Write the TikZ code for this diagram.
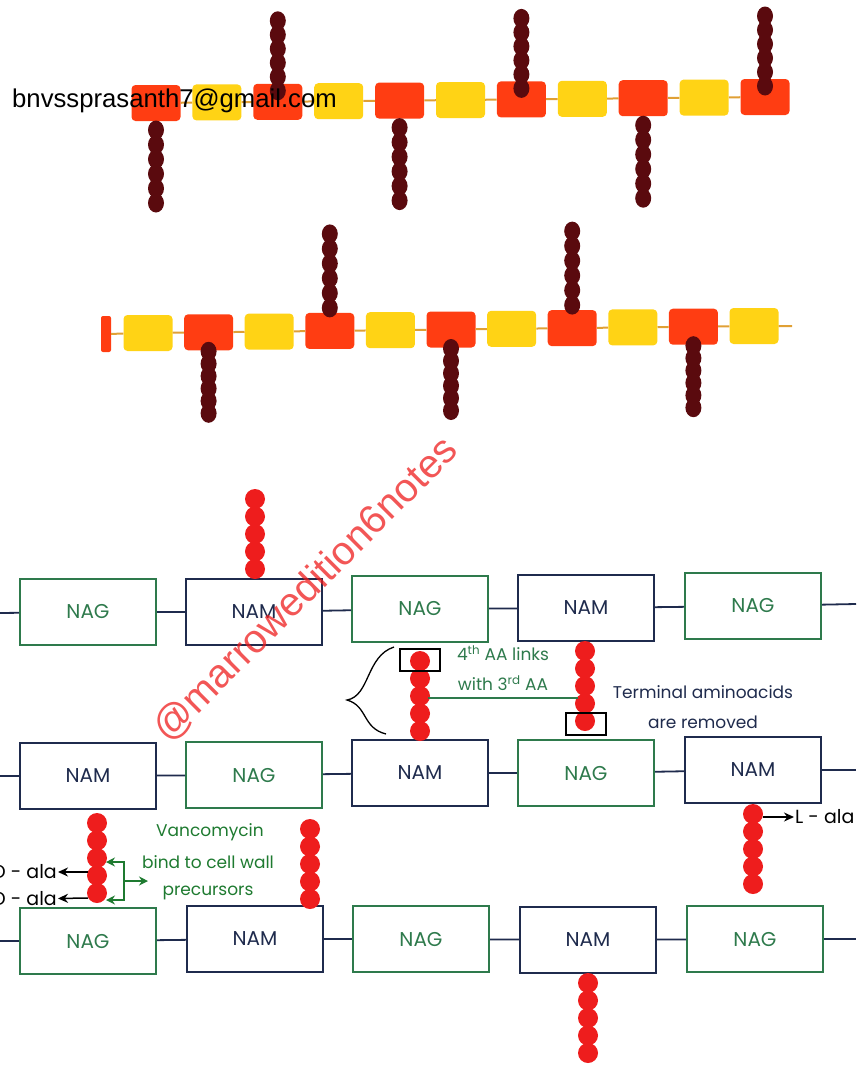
\documentclass[tikz,border=0pt]{standalone}
\usepackage{fontspec}
\usetikzlibrary{arrows.meta}

\newfontfamily\handfont{Poppins}
\newfontfamily\arialfont{Liberation Sans}

\definecolor{nagcol}{HTML}{2E7A4C}
\definecolor{namcol}{HTML}{1F2B4D}
\definecolor{beadred}{HTML}{EE1D1D}
\definecolor{beaddark}{HTML}{5A0A0E}
\definecolor{blockred}{HTML}{FF3D12}
\definecolor{blockyel}{HTML}{FFD315}
\definecolor{linkcol}{HTML}{E0A035}
\definecolor{vancocol}{HTML}{1E7A30}

% peptide side chain: style, x, y of first bead, y of last bead, number of beads
\newcommand{\sidechain}[5]{%
  \foreach \k in {1,...,#5}
    \fill[#1] ({#2},{(#3)+((#4)-(#3))*(\k-1)/(#5-1)}) circle[];
}

\begin{document}
\begin{tikzpicture}[x=1pt, y=-1pt, >=Stealth,
  block/.style={rectangle, rounded corners=4pt, minimum width=49pt, minimum height=36pt, inner sep=0pt},
  link/.style={draw=linkcol, line width=2pt},
  darkbead/.style={fill=beaddark, x radius=8pt, y radius=9.5pt},
  redbead/.style={fill=beadred, radius=10pt},
  sugar/.style={rectangle, minimum width=136pt, minimum height=66pt, line width=2pt,
    font=\handfont\fontsize{20}{24}\selectfont},
  NAG/.style={sugar, draw=nagcol, text=nagcol},
  NAM/.style={sugar, draw=namcol, text=namcol},
  glyco/.style={draw=namcol, line width=1.8pt},
  note/.style={font=\handfont\fontsize{17}{20}\selectfont, inner sep=1pt},
  ala/.style={font=\handfont\fontsize{19}{22}\selectfont, inner sep=1pt, text=black},
  tag/.style={draw, line width=1.3pt, minimum width=40pt, minimum height=22pt, inner sep=0pt},
  blackarrow/.style={-{Stealth[length=10pt,width=9pt]}, line width=1.5pt},
  vanco/.style={draw=vancocol, line width=1.5pt, arrows={Stealth[length=9pt,width=9pt]-Stealth[length=9pt,width=9pt]}},
]
\useasboundingbox (0,0) rectangle (859,1068);

% upper glycan strand
\foreach \i in {0,...,10} {
  \ifodd\i \def\bc{blockyel}\else\def\bc{blockred}\fi
  \node[block, fill=\bc] (u\i) at ({156+60.9*\i},{103-0.6*\i}) {};
}
\foreach \i [count=\j] in {0,...,9} \draw[link] (u\i) -- (u\j);
\foreach \i in {2,6,10} {\sidechain{darkbead}{156+60.9*\i}{92-0.6*\i}{22-0.6*\i}{6}}
\foreach \i in {0,4,8} {\sidechain{darkbead}{156+60.9*\i}{130-0.6*\i}{203-0.6*\i}{6}}

\node[anchor=west, inner sep=0pt, font=\arialfont\fontsize{25.7}{30}\selectfont] (mail) at (12,101) {bnvssprasanth7@gmail.com};

% lower glycan strand
\node[block, fill=blockred, minimum width=10pt, rounded corners=2pt] (v00) at (106,334) {};
\foreach \i in {0,...,10} {
  \ifodd\i \def\bc{blockred}\else\def\bc{blockyel}\fi
  \node[block, fill=\bc] (v\i) at ({148+60.6*\i},{333-0.7*\i}) {};
}
\coordinate (vend) at (792,326);
\draw[link] (v00) -- (v0);
\foreach \i [count=\j] in {0,...,9} \draw[link] (v\i) -- (v\j);
\draw[link] (v10) -- (vend);
\foreach \i in {3,7} {\sidechain{darkbead}{148+60.6*\i}{310-0.7*\i}{236-0.7*\i}{6}}
\foreach \i in {1,5,9} {\sidechain{darkbead}{148+60.6*\i}{352-0.7*\i}{414-0.7*\i}{6}}

% NAG / NAM rows
\foreach \n/\x/\y/\t in {a1/88/612/NAG, a2/254/612/NAM, a3/420/609/NAG, a4/586/608/NAM, a5/753/606/NAG,
                         b1/88/776/NAM, b2/254/775/NAG, b3/420/773/NAM, b4/586/773/NAG, b5/753/770/NAM,
                         c1/88/941/NAG, c2/255/939/NAM, c3/421/939/NAG, c4/588/940/NAM, c5/755/939/NAG}
  \node[\t] (\n) at (\x,\y) {\t};

\coordinate (aL) at (0,613); \coordinate (aR) at (856,604);
\coordinate (bL) at (0,776); \coordinate (bR) at (856,770);
\coordinate (cL) at (0,941); \coordinate (cR) at (856,939);
\foreach \r in {a,b,c} {
  \draw[glyco] (\r L) -- (\r1);
  \foreach \i [count=\j from 2] in {1,...,4} \draw[glyco] (\r\i) -- (\r\j);
  \draw[glyco] (\r5) -- (\r R);
}

% peptide chains
\sidechain{redbead}{255}{569}{499}{5}
\sidechain{redbead}{420}{661}{731}{5}
\sidechain{redbead}{585}{651}{721}{5}
\sidechain{redbead}{97}{823}{893}{5}
\sidechain{redbead}{310}{829}{899}{5}
\sidechain{redbead}{753}{814}{884}{5}
\sidechain{redbead}{588}{983}{1053}{5}

% cross-link between the strands
\node[tag] (aa4) at (420,660) {};
\node[tag] (aaend) at (586,724) {};
\coordinate (x3) at (428,698);
\coordinate (x4) at (578,698);
\draw[draw=nagcol, line width=1.5pt] (x3) -- (x4);
\draw[line width=1.3pt] (394,647) .. controls (366,656) and (370,696) .. (347,700)
  .. controls (368,706) and (362,728) .. (386,734);
\node[note, text=nagcol] (link1) at (503,653) {4\textsuperscript{th} AA links};
\node[note, text=nagcol] (link2) at (503,683) {with 3\textsuperscript{rd} AA};
\node[note, text=namcol] (term1) at (703,692) {Terminal aminoacids};
\node[note, text=namcol] (term2) at (703,722) {are removed};

% vancomycin
\node[note, text=vancocol] (vc1) at (210,832) {Vancomycin};
\node[note, text=vancocol] (vc2) at (208,862) {bind to cell wall};
\node[note, text=vancocol] (vc3) at (208,893) {precursors};
\coordinate (vs1) at (106,862); \coordinate (vk1) at (124,862);
\coordinate (vs2) at (106,900); \coordinate (vk2) at (124,900);
\coordinate (vk3) at (124,881); \coordinate (vt) at (148,881);
\draw[vanco] (vs1) -- (vk1) -- (vk2) -- (vs2);
\draw[draw=vancocol, line width=1.5pt, -{Stealth[length=9pt,width=9pt]}] (vk3) -- (vt);

% released alanines
\node[ala, anchor=east] (dala1) at (58,872) {D - ala};
\node[ala, anchor=east] (dala2) at (58,899) {D - ala};
\coordinate (d1) at (88,872); \coordinate (d2) at (88,898);
\draw[blackarrow] (d1) -- (dala1);
\draw[blackarrow] (d2) -- (dala2);
\node[ala, anchor=west] (lala) at (794,817) {L - ala};
\coordinate (l1) at (763,817);
\draw[blackarrow] (l1) -- (lala);

% watermark
\node[rotate=45, text=beadred, opacity=0.75, inner sep=0pt,
  font=\arialfont\fontsize{40}{48}\selectfont] (wm) at (306,590) {@marrowedition6notes};

\end{tikzpicture}
\end{document}
